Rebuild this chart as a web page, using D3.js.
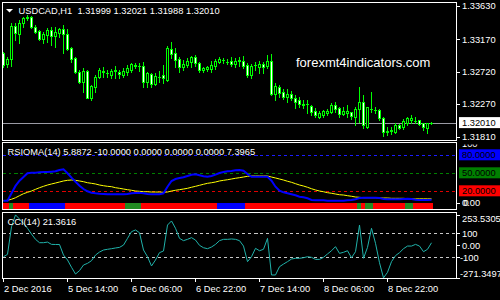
<!DOCTYPE html>
<html><head><meta charset="utf-8">
<script src="https://cdn.jsdelivr.net/npm/d3@7"></script>
<style>html,body{margin:0;padding:0;background:#000;overflow:hidden}svg{display:block}text{white-space:pre}</style>
</head><body>
<svg id="c" width="500" height="300"></svg>
<script>
// ---- DATA ----
const symbol = "USDCAD,H1";
const open = [1.32976,1.32822,1.32892,1.33352,1.33240,1.33393,1.33463,1.33477,1.33338,1.33282,
1.33171,1.33226,1.33296,1.33212,1.33254,1.33310,1.33240,1.33045,1.32906,1.32711,
1.32572,1.32725,1.32349,1.32502,1.32641,1.32725,1.32697,1.32669,1.32739,1.32711,
1.32669,1.32711,1.32739,1.32795,1.32795,1.32795,1.32572,1.32683,1.32544,1.32641,
1.32669,1.32600,1.33031,1.32976,1.32892,1.32781,1.32809,1.32850,1.32920,1.32836,
1.32739,1.32753,1.32753,1.32795,1.32850,1.32878,1.32850,1.32864,1.32822,1.32864,
1.32864,1.32809,1.32669,1.32809,1.32781,1.32822,1.32795,1.32864,1.32405,1.32502,
1.32433,1.32363,1.32405,1.32349,1.32321,1.32265,1.32265,1.32238,1.32168,1.32084,
1.32112,1.32140,1.32154,1.32251,1.32210,1.32126,1.32140,1.32154,1.32084,1.32196,
1.32293,1.31945,1.32196,1.32182,1.32182,1.32070,1.31889,1.31903,1.31875,1.31973,
1.31945,1.32001,1.32043,1.32029,1.32043,1.32001,1.31931,1.31999];
const high = [1.32990,1.32920,1.33393,1.33393,1.33435,1.33477,1.33505,1.33491,1.33366,1.33296,
1.33268,1.33324,1.33338,1.33338,1.33324,1.33366,1.33310,1.33059,1.32920,1.32739,
1.32767,1.32739,1.32530,1.32669,1.32767,1.32781,1.32739,1.32753,1.32795,1.32739,
1.32767,1.32809,1.32836,1.32836,1.32836,1.32850,1.32711,1.32697,1.32697,1.32725,
1.32809,1.33073,1.33129,1.33045,1.32920,1.32878,1.32906,1.32934,1.32948,1.32850,
1.32781,1.32795,1.32864,1.32892,1.32920,1.32906,1.32892,1.32920,1.32906,1.32920,
1.32934,1.32836,1.32822,1.32850,1.32864,1.32850,1.32948,1.32962,1.32558,1.32530,
1.32474,1.32474,1.32446,1.32391,1.32363,1.32321,1.32321,1.32251,1.32210,1.32168,
1.32182,1.32196,1.32279,1.32293,1.32224,1.32224,1.32251,1.32160,1.32224,1.32502,
1.32391,1.32230,1.32433,1.32224,1.32196,1.32084,1.31945,1.31945,1.32001,1.31987,
1.32056,1.32084,1.32112,1.32084,1.32050,1.32008,1.32010,1.32021];
const low = [1.32781,1.32781,1.32795,1.33157,1.33115,1.33338,1.33435,1.33324,1.33254,1.33157,
1.33115,1.33129,1.33087,1.33059,1.33198,1.32976,1.33017,1.32850,1.32697,1.32558,
1.32433,1.32349,1.32321,1.32433,1.32627,1.32641,1.32641,1.32627,1.32627,1.32627,
1.32641,1.32669,1.32711,1.32767,1.32725,1.32502,1.32502,1.32502,1.32530,1.32572,
1.32558,1.32586,1.32906,1.32781,1.32711,1.32739,1.32781,1.32781,1.32795,1.32711,
1.32711,1.32725,1.32711,1.32753,1.32836,1.32836,1.32822,1.32795,1.32781,1.32795,
1.32767,1.32641,1.32627,1.32739,1.32697,1.32697,1.32767,1.32391,1.32321,1.32363,
1.32335,1.32293,1.32321,1.32210,1.32224,1.32210,1.32140,1.32112,1.32084,1.32070,
1.32084,1.32112,1.32140,1.32154,1.32084,1.32112,1.32084,1.32056,1.31973,1.32015,
1.31931,1.31931,1.32154,1.32140,1.32043,1.31820,1.31834,1.31848,1.31861,1.31917,
1.31917,1.31973,1.32001,1.32001,1.31973,1.31903,1.31861,1.31988];
const close = [1.32809,1.32892,1.33352,1.33254,1.33393,1.33463,1.33477,1.33338,1.33268,1.33171,
1.33240,1.33296,1.33212,1.33268,1.33310,1.33240,1.33031,1.32892,1.32711,1.32572,
1.32725,1.32349,1.32516,1.32641,1.32739,1.32711,1.32700,1.32725,1.32732,1.32683,
1.32725,1.32767,1.32822,1.32809,1.32798,1.32572,1.32697,1.32544,1.32655,1.32644,
1.32627,1.33045,1.32962,1.32878,1.32781,1.32822,1.32864,1.32920,1.32836,1.32739,
1.32767,1.32781,1.32809,1.32864,1.32892,1.32881,1.32853,1.32822,1.32864,1.32878,
1.32795,1.32669,1.32795,1.32806,1.32822,1.32781,1.32864,1.32405,1.32516,1.32419,
1.32363,1.32405,1.32349,1.32293,1.32265,1.32251,1.32262,1.32154,1.32112,1.32140,
1.32168,1.32168,1.32251,1.32196,1.32126,1.32168,1.32168,1.32098,1.32196,1.32293,
1.31973,1.32224,1.32199,1.32185,1.32070,1.31875,1.31886,1.31900,1.31973,1.31931,
1.32029,1.32070,1.32070,1.32032,1.31987,1.31945,1.32001,1.32010];
const priceTicks = [1.33630, 1.33170, 1.32720, 1.32270, 1.31810];
const priceDomain = [1.31810, 1.33630];

const rsioma = [4.3,4.3,16.7,29,37.7,43.8,50,51,51,51.7,
52.2,52.2,52.7,53.3,55.5,56.7,50,42.7,36,29.3,
23.8,20,17.7,16.7,16,15.5,15,15,15,15,
15,15.5,16.7,17.2,17.7,16.7,15.5,15,15,15,
16.7,27.7,37.2,40.5,42.2,43.3,45.5,47.7,48.3,46.7,
45,44.3,45.5,47.7,50.5,52.2,53.3,53.8,55,55.5,
54.3,48.8,44.3,44.3,44.3,44.3,44.3,37.7,27.7,21,
18.3,16.7,15,13.3,11,10,8.3,5.5,5,5,
5,4.4,4.4,4.4,4.4,4.4,5,5.5,6.7,8.8,
9.3,9.3,9.3,9.3,8.8,7.2,6.7,6.7,6.7,6.7,
7.2,7.7,7.2,6,5.5,5.5,5.5,5.8872];
const rsiomaMA = [4.3,5,6.7,9.3,12.7,16,18.3,20.5,23.3,26,
28.3,30.5,32.2,33.8,35.5,37.2,38.3,38.8,38.3,37.2,
36,34.3,33.3,32.2,30.5,29.3,28.3,27.7,26,25,
23.8,22.7,21.7,20.5,20,19.3,19.3,18.8,18.8,18.8,
18.3,18.8,20.5,21.7,22.7,23.8,25,26.7,28.3,30,
31.7,33.3,34.3,35.5,37.2,38.3,39.3,40.5,41.7,42.7,
43.8,45,45.5,45.5,45.5,45.5,45.5,43.8,42.2,40.5,
38.8,36.7,35,32.7,30.5,28.8,26.7,24.3,22.2,20.5,
19.3,17.7,16.7,15.5,14.3,13.8,12.7,11.7,10.5,10,
9.3,9.3,9.3,9.3,8.8,8.8,8.8,8.3,8.3,8.3,
8.3,7.7,7.2,7.2,7.4,7.4,7.4,7.3965];
const histValue = -10;
// r = red (down), g = green (neutral), b = blue (up)
const histState = ["r","r","g","r","r","r","r","b","b","b",
"b","b","b","b","b","b","r","r","r","r",
"r","r","r","r","r","r","r","r","r","r",
"r","g","g","g","g","r","r","r","r","r",
"r","r","r","r","r","r","r","r","r","r",
"r","r","r","r","b","b","b","b","b","b",
"b","r","r","r","r","r","r","r","r","r",
"r","r","r","r","r","r","r","r","r","r",
"r","r","r","r","r","r","r","r","r","g",
"r","g","g","r","r","r","r","r","r","r",
"r","g","g","r","r","r","r","r"];
const rsiLevels = [80, 50, 20];
const rsiLevelLabels = ["80.0000", "50.0000", "20.0000"];

const cci = [-95,-75,155,253.5305,219,183,142,94,50,22,
22,27,8,7,7,-81,-122,-183,-239,-211,
-164,-150,-128,-81,-56,-39,-33,-28,-22,-17,
2,58,114,128,105,-39,-95,-172,-122,-61,
-47,169,203,142,58,39,50,64,44,0,
-20,-28,-14,8,39,50,50,53,50,39,
-6,-136,-95,-25,-45,-33,58,-247,-247,-178,
-156,-136,-114,-108,-108,-103,-95,-100,-117,-117,
-100,-72,-45,-11,-67,-58,-45,-103,-53,169,
-108,-17,142,17,-145,-271.3497,-225,-136,-86,-61,
-28,-6,-6,8,-6,-53,-33,21.3616];
const cciLevels = [100, -100];
const cciTicks = [253.5305, 100, 0, -100, -271.3497];
const cciTickLabels = ["253.5305", "100", "0.00", "-100", "-271.3497"];

const timeIdx = [0, 16, 32, 48, 64, 80, 96];
const timeLabels = ["2 Dec 2016", "5 Dec 14:00", "6 Dec 06:00", "6 Dec 22:00", "7 Dec 14:00", "8 Dec 06:00", "8 Dec 22:00"];
const watermark = "forexmt4indicators.com";

// ---- DRAW ----
const FONT = "'Liberation Sans', Arial, sans-serif";
const FS = 9.3;
const svg = d3.select("#c");
svg.append("rect").attr("width", 500).attr("height", 300).attr("fill", "#000");
const n = close.length;
const L = 2.5, R = 456.5;
const P1 = {t: 2.5, b: 140.5}, P2 = {t: 142.5, b: 209.5}, P3 = {t: 212.5, b: 278.5};

const x = d3.scaleLinear().domain([0, n - 1]).range([3.5, 3.5 + 4 * (n - 1)]);
const yP = d3.scaleLinear().domain(priceDomain).range([137, 6]);
const yR = d3.scaleLinear().domain([0, 100]).range([203.3, 143.3]);
const yC = d3.scaleLinear().domain(d3.extent(cci)).range([277.9, 214.9]);

const defs = svg.append("defs");
[[P1, "c1"], [P2, "c2"], [P3, "c3"]].forEach(([p, id]) => {
  defs.append("clipPath").attr("id", id).append("rect")
    .attr("x", L + 0.5).attr("y", p.t + 0.5).attr("width", R - L - 1).attr("height", p.b - p.t - 1);
});
defs.append("clipPath").attr("id", "cl100").append("rect").attr("x", 457).attr("y", 144.5).attr("width", 43).attr("height", 70);

const px = v => Math.round(v) + 0.5;

// ---- main panel ----
const g1 = svg.append("g").attr("clip-path", "url(#c1)");
g1.append("line").attr("x1", L).attr("x2", R)
  .attr("y1", px(yP(close[n - 1]))).attr("y2", px(yP(close[n - 1])))
  .attr("stroke", "#9a9aa4").attr("stroke-width", 1);

const candles = g1.append("g").attr("shape-rendering", "crispEdges");
d3.range(n).forEach(i => {
  const cx = x(i);
  candles.append("line").attr("x1", cx).attr("x2", cx)
    .attr("y1", Math.round(yP(high[i]))).attr("y2", Math.round(yP(low[i])) + 1)
    .attr("stroke", "#00ff00").attr("stroke-width", 1);
  const t = px(yP(Math.max(open[i], close[i])));
  const b = px(yP(Math.min(open[i], close[i])));
  if (b - t < 1) {
    candles.append("line").attr("x1", cx - 1.5).attr("x2", cx + 1.5).attr("y1", t).attr("y2", t)
      .attr("stroke", "#00ff00");
  } else {
    candles.append("rect").attr("x", cx - 1).attr("y", t).attr("width", 2).attr("height", b - t)
      .attr("fill", close[i] >= open[i] ? "#000" : "#fff").attr("stroke", "#00ff00").attr("stroke-width", 1);
  }
});

svg.append("text").attr("x", 296).attr("y", 67).attr("fill", "#fff")
  .attr("font-family", FONT).attr("font-size", 13).text(watermark);

// header
svg.append("path").attr("d", "M6,9L13,9L9.5,12.5Z").attr("fill", "#fff");
svg.append("text").attr("x", 18.5).attr("y", 14).attr("fill", "#fff")
  .attr("font-family", FONT).attr("font-size", FS)
  .text(`${symbol}  ${open[n-1].toFixed(5)} ${high[n-1].toFixed(5)} ${low[n-1].toFixed(5)} ${close[n-1].toFixed(5)}`);

// price axis
priceTicks.forEach(v => {
  const yy = px(yP(v));
  svg.append("line").attr("x1", 456.5).attr("x2", 460).attr("y1", yy).attr("y2", yy).attr("stroke", "#fff");
  svg.append("text").attr("x", 462).attr("y", yP(v) + 3.4).attr("fill", "#fff")
    .attr("font-family", FONT).attr("font-size", FS).text(v.toFixed(5));
});
{
  const yy = yP(close[n - 1]);
  svg.append("rect").attr("x", 459).attr("y", yy - 5.5).attr("width", 41).attr("height", 11).attr("fill", "#fff");
  svg.append("text").attr("x", 462).attr("y", yy + 3.4).attr("fill", "#000")
    .attr("font-family", FONT).attr("font-size", FS).text(close[n - 1].toFixed(5));
}

// ---- RSIOMA panel ----
const g2 = svg.append("g").attr("clip-path", "url(#c2)");
const stateColor = {r: "#ff0000", g: "#228b22", b: "#0000ff"};
g2.append("g").attr("shape-rendering", "crispEdges").selectAll("rect").data(histState).join("rect")
  .attr("x", (d, i) => x(i) - 2.5).attr("width", 4)
  .attr("y", yR(0)).attr("height", yR(histValue) - yR(0))
  .attr("fill", d => stateColor[d]);
const levelColor = ["#1c1cff", "#008000", "#e00000"];
rsiLevels.forEach((v, k) => {
  g2.append("line").attr("x1", L).attr("x2", R).attr("y1", px(yR(v))).attr("y2", px(yR(v)))
    .attr("stroke", levelColor[k]).attr("stroke-dasharray", "3,3").attr("shape-rendering", "crispEdges");
});
g2.append("path").datum(rsiomaMA).attr("fill", "none").attr("stroke", "#ffff00").attr("stroke-width", 1)
  .attr("d", d3.line().x((d, i) => x(i)).y(d => yR(d)));
g2.append("path").datum(rsioma).attr("fill", "none").attr("stroke", "#0000ff").attr("stroke-width", 2)
  .attr("d", d3.line().x((d, i) => x(i)).y(d => yR(d)));
svg.append("text").attr("x", 7.5).attr("y", 155).attr("fill", "#fff")
  .attr("font-family", FONT).attr("font-size", FS)
  .text(`RSIOMA(14) ${rsioma[n-1].toFixed(4)} ${histValue.toFixed(4)} 0.0000 0.0000 0.0000 ${rsiomaMA[n-1].toFixed(4)}`);
const boxFill = ["#0000ff", "#008000", "#ff0000"];
rsiLevels.forEach((v, k) => {
  const yy = yR(v) - 0.5;
  svg.append("rect").attr("x", 459).attr("y", yy - 5.5).attr("width", 41).attr("height", 11).attr("fill", boxFill[k]);
  svg.append("text").attr("x", 462).attr("y", yy + 3.4).attr("fill", "#000")
    .attr("font-family", FONT).attr("font-size", FS).text(rsiLevelLabels[k]);
});
svg.append("text").attr("clip-path", "url(#cl100)").attr("x", 462).attr("y", yR(100) + 3.4).attr("fill", "#fff")
  .attr("font-family", FONT).attr("font-size", FS).text("100");
svg.append("text").attr("x", 462).attr("y", yR(0) + 2.6).attr("fill", "#fff")
  .attr("font-family", FONT).attr("font-size", FS).text("0.00");
svg.append("text").attr("x", 463.5).attr("y", yR(0) + 2.6).attr("fill", "#fff")
  .attr("font-family", FONT).attr("font-size", FS).text("0");
svg.append("line").attr("x1", 456.5).attr("x2", 460).attr("y1", px(yR(0))).attr("y2", px(yR(0))).attr("stroke", "#fff");

// ---- CCI panel ----
const g3 = svg.append("g").attr("clip-path", "url(#c3)");
cciLevels.forEach(v => {
  g3.append("line").attr("x1", L).attr("x2", R).attr("y1", px(yC(v))).attr("y2", px(yC(v)))
    .attr("stroke", "#c8c8c8").attr("stroke-dasharray", "3,3").attr("shape-rendering", "crispEdges");
});
g3.append("path").datum(cci).attr("fill", "none").attr("stroke", "#20b2aa").attr("stroke-width", 1)
  .attr("d", d3.line().x((d, i) => x(i)).y(d => yC(d)));
svg.append("text").attr("x", 7.5).attr("y", 225).attr("fill", "#fff")
  .attr("font-family", FONT).attr("font-size", FS).text(`CCI(14) ${cci[n-1].toFixed(4)}`);
const cciLabelY = [219, 233.3, 245, 257.3, 273.3];
cciTicks.forEach((v, k) => {
  const yy = px(yC(v));
  svg.append("line").attr("x1", 456.5).attr("x2", 460).attr("y1", yy).attr("y2", yy).attr("stroke", "#fff");
  svg.append("text").attr("x", v < 0 ? 460 : 462).attr("y", Math.min(Math.max(yC(v), 218.5), 273.5) + 3.4).attr("fill", "#fff")
    .attr("font-family", FONT).attr("font-size", FS).text(cciTickLabels[k]);
});

// ---- panel borders ----
[P1, P2, P3].forEach(p => {
  svg.append("rect").attr("x", L).attr("y", p.t).attr("width", R - L).attr("height", p.b - p.t)
    .attr("fill", "none").attr("stroke", "#fff").attr("stroke-width", 1);
});

// ---- time axis ----
timeIdx.forEach((idx, k) => {
  const tx = Math.round(x(idx) - 0.5) + 0.5;
  svg.append("line").attr("x1", tx).attr("x2", tx).attr("y1", 278.5).attr("y2", 282).attr("stroke", "#fff");
  svg.append("text").attr("x", tx + 0.5).attr("y", 291.5).attr("fill", "#fff")
    .attr("font-family", FONT).attr("font-size", FS).text(timeLabels[k]);
});
</script>
</body></html>
